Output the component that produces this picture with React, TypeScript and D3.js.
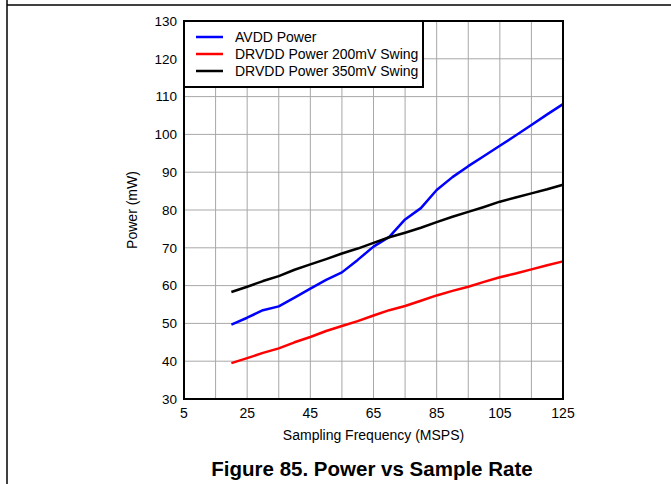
import React from "react";
import * as d3 from "d3";

const freqs = [20, 25, 30, 35, 40, 45, 50, 55, 60, 65, 70, 75, 80, 85, 90, 95, 100, 105, 110, 115, 120, 125];
const avdd = [49.7, 51.5, 53.5, 54.5, 56.8, 59.2, 61.5, 63.5, 66.8, 70.3, 72.9, 77.5, 80.5, 85.3, 88.7, 91.6, 94.3, 97, 99.7, 102.5, 105.3, 108];
const drvdd200 = [39.5, 40.8, 42.2, 43.4, 45, 46.4, 48, 49.3, 50.6, 52.1, 53.5, 54.6, 56, 57.4, 58.6, 59.7, 61, 62.2, 63.2, 64.3, 65.4, 66.4];
const drvdd350 = [58.3, 59.7, 61.2, 62.5, 64.2, 65.6, 67, 68.5, 69.8, 71.3, 72.8, 74, 75.3, 76.8, 78.2, 79.5, 80.8, 82.2, 83.3, 84.4, 85.5, 86.7];
const xTicks = [5, 25, 45, 65, 85, 105, 125];
const yTicks = [30, 40, 50, 60, 70, 80, 90, 100, 110, 120, 130];
const xGrid = [15, 25, 35, 45, 55, 65, 75, 85, 95, 105, 115];
const seriesNames = ["AVDD Power", "DRVDD Power 200mV Swing", "DRVDD Power 350mV Swing"];
const seriesColors = ["#0000ff", "#ff0000", "#000000"];

export default function App() {
  const W = 671, H = 484;
  const L = 184, R = 563, T = 21, B = 399;
  const x = d3.scaleLinear().domain([5, 125]).range([L, R]);
  const y = d3.scaleLinear().domain([30, 130]).range([B, T]);
  const line = d3.line<[number, number]>().x(d => x(d[0])).y(d => y(d[1]));
  const series = [avdd, drvdd200, drvdd350];
  const font = "Liberation Sans, Arial, sans-serif";
  return (
    <svg width={W} height={H} style={{ position: "absolute", left: 0, top: 0, background: "#fff" }} fontFamily={font}>
      <line x1={7} y1={0} x2={7} y2={H} stroke="#000" strokeWidth={1.5} />
      <line x1={7} y1={5} x2={W} y2={5} stroke="#000" strokeWidth={1.5} />
      {xGrid.map(v => (
        <line key={"gx" + v} x1={x(v)} x2={x(v)} y1={T} y2={B} stroke="#a8a8a8" strokeWidth={1} />
      ))}
      {yTicks.slice(1, -1).map(v => (
        <line key={"gy" + v} x1={L} x2={R} y1={y(v)} y2={y(v)} stroke="#a8a8a8" strokeWidth={1} />
      ))}
      {series.map((s, i) => (
        <path key={i} d={line(freqs.map((f, j) => [f, s[j]] as [number, number])) || ""} fill="none" stroke={seriesColors[i]} strokeWidth={2.5} strokeLinejoin="round" />
      ))}
      <rect x={L} y={T} width={R - L} height={B - T} fill="none" stroke="#000" strokeWidth={2} />
      {yTicks.map(v => (
        <text key={"ty" + v} x={177} y={y(v)} dy="0.35em" textAnchor="end" fontSize={13.5}>{v}</text>
      ))}
      {xTicks.map(v => (
        <text key={"tx" + v} x={x(v)} y={413} dy="0.35em" textAnchor="middle" fontSize={14}>{v}</text>
      ))}
      <text x={(L + R) / 2} y={435} dy="0.35em" textAnchor="middle" fontSize={14}>Sampling Frequency (MSPS)</text>
      <text transform={`translate(132,${(T + B) / 2}) rotate(-90)`} dy="0.35em" textAnchor="middle" fontSize={14}>Power (mW)</text>
      <rect x={L} y={T} width={239} height={66} fill="#fff" stroke="#000" strokeWidth={2} />
      {seriesNames.map((n, i) => (
        <g key={n}>
          <line x1={196} x2={223} y1={37 + i * 17} y2={37 + i * 17} stroke={seriesColors[i]} strokeWidth={2.5} />
          <text x={235} y={37 + i * 17} dy="0.35em" fontSize={14}>{n}</text>
        </g>
      ))}
      <text x={372} y={476} textAnchor="middle" fontSize={20.5} fontWeight="bold">Figure 85. Power vs Sample Rate</text>
    </svg>
  );
}
